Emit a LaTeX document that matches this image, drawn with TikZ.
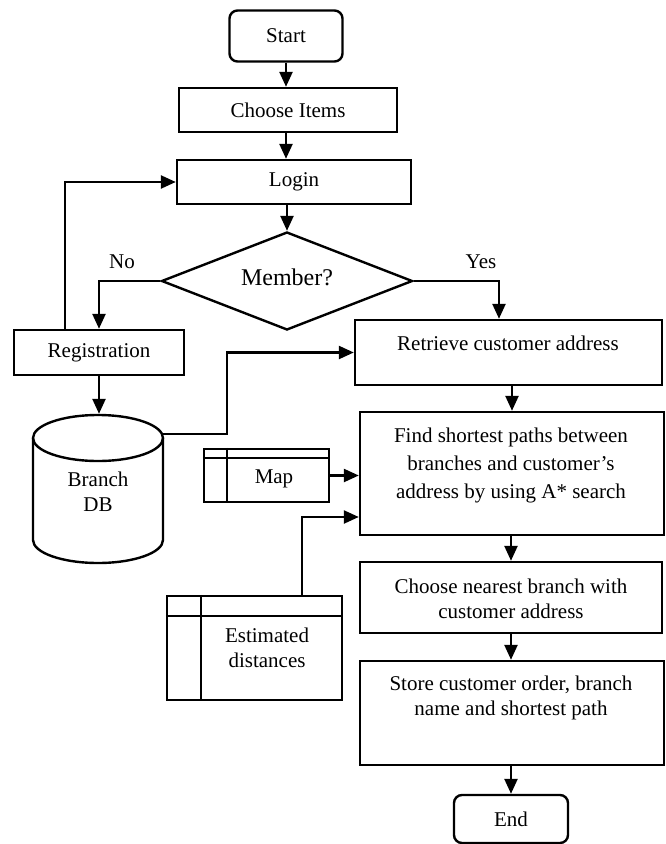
\documentclass[tikz,border=0pt]{standalone}
\usepackage{fontspec}
\setmainfont{Liberation Serif}
\usetikzlibrary{arrows.meta,shapes.geometric}
\begin{document}
\begin{tikzpicture}[x=1pt,y=-1pt,
  line width=2.4pt,
  every node/.style={font=\fontsize{21}{25}\selectfont},
  box/.style={draw, rectangle, inner sep=0pt, align=center},
  term/.style={box, rounded corners=8pt},
  txt/.style={inner sep=0pt, align=center},
  arr/.style={-{Triangle[length=15pt,width=13pt]}}
]
\useasboundingbox (0,0) rectangle (666,844);

% nodes
\node[term, minimum width=113pt, minimum height=51pt] (start) at (286,36) {Start};
\node[box, minimum width=218pt, minimum height=44pt] (choose) at (288,110) {Choose Items};
\node[box, minimum width=234pt, minimum height=44pt] (login) at (294,182) {Login};
\node[diamond, draw, inner sep=0pt, minimum width=251pt, minimum height=98pt] (dia) at (287,281) {};
\node[txt, font=\fontsize{24}{28}\selectfont] (diaT) at (287,277) {Member?};
\node[box, minimum width=170pt, minimum height=45pt] (reg) at (99,352.5) {Registration};

% cylinder
\node[minimum width=130pt, minimum height=148pt, inner sep=0pt] (db) at (98,489) {};
\draw (98,438) ellipse (65 and 23);
\draw (33,438) -- (33,540) .. controls (33,552.7) and (62.1,563) .. (98,563)
      .. controls (133.9,563) and (163,552.7) .. (163,540) -- (163,438);
\node[txt] (dbT) at (98,492) {Branch\\DB};

\node[box, minimum width=307pt, minimum height=65pt] (retrieve) at (508.5,352.5) {};
\node[txt] (retrieveT) at (508,343) {Retrieve customer address};

\node[box, minimum width=304pt, minimum height=123pt] (find) at (512,473.5) {};
\node[txt, font=\fontsize{21}{28}\selectfont] (findT) at (511,465) {Find shortest paths between\\branches and customer’s\\address by using A* search};

\node[box, minimum width=125pt, minimum height=53pt] (map) at (266.5,475.5) {};
\draw ([yshift=-10pt]map.north west) -- ([yshift=-10pt]map.north east);
\draw ([xshift=24pt]map.north west) -- ([xshift=24pt]map.south west);
\node[txt] (mapT) at (274,479) {Map};

\node[box, minimum width=175pt, minimum height=104pt] (est) at (254.5,648) {};
\draw ([yshift=-21pt]est.north west) -- ([yshift=-21pt]est.north east);
\draw ([xshift=35pt]est.north west) -- ([xshift=35pt]est.south west);
\node[txt] (estT) at (267,648) {Estimated\\distances};

\node[box, minimum width=302pt, minimum height=71pt] (near) at (511,597.5) {};
\node[txt] (nearT) at (511,599) {Choose nearest branch with\\customer address};

\node[box, minimum width=304pt, minimum height=104pt] (store) at (512,713) {};
\node[txt] (storeT) at (511,698) {Store customer order, branch\\name and shortest path};

\node[term, minimum width=114pt, minimum height=48pt] (end) at (511,819) {End};

\node[txt] (no) at (122,262) {No};
\node[txt] (yes) at (481,262) {Yes};

% connectors
\draw[arr] (start.south) -- (start.south |- choose.north);
\draw[arr] (choose.south -| start.south) -- (start.south |- login.north);
\draw[arr] (login.south -| dia.north) -- (dia.north);
\coordinate (nobend) at (99,281);
\draw[arr] (dia.west) -- (nobend) -- (reg.north);
\coordinate (yesbend) at (499,281);
\draw[arr] (dia.east) -- (yesbend) -- (yesbend |- retrieve.north);
\coordinate (fbstart) at (65,330);
\draw[arr] (fbstart) -- (fbstart |- login.west) -- (login.west);
\draw[arr] (reg.south) -- (reg.south |- db.north);
\coordinate (dbout) at (163,434);
\coordinate (dbbend) at (227,434);
\draw[arr] (dbout) -- (dbbend) -- (dbbend |- retrieve.west) -- (retrieve.west);
\draw[arr] (retrieve.south -| find.north) -- (find.north);
\draw[arr] (map.east) -- (map.east -| find.west);
\coordinate (estbend) at (302,517);
\draw[arr] (estbend |- est.north) -- (estbend) -- (estbend -| find.west);
\draw[arr] (find.south -| near.north) -- (near.north);
\draw[arr] (near.south) -- (near.south |- store.north);
\draw[arr] (store.south -| end.north) -- (end.north);
\end{tikzpicture}
\end{document}
